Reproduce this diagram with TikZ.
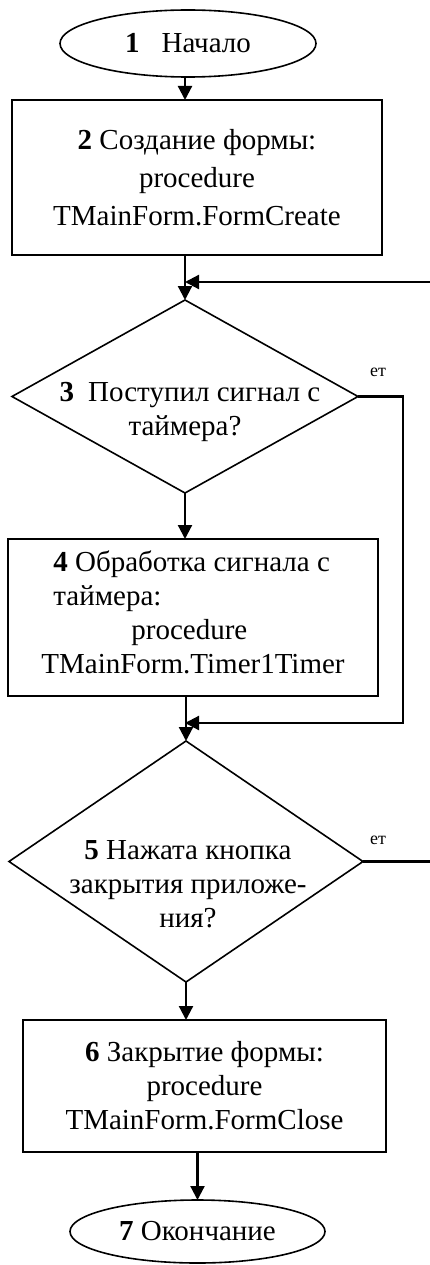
\documentclass[tikz,border=0pt]{standalone}
\usepackage{fontspec}
\setmainfont{Liberation Serif}
\usetikzlibrary{shapes.geometric,arrows.meta}
\newcommand\flowfont{\fontsize{29}{34}\selectfont}
\newcommand\notefont{\fontsize{18}{20}\selectfont}
\begin{document}
\begin{tikzpicture}[x=1pt,y=-1pt,
  outline/.style={draw=black,line width=1.6pt,inner sep=0pt,outer sep=0pt},
  procbox/.style={outline,rectangle,align=center,font=\flowfont},
  terminal/.style={outline,ellipse,font=\flowfont},
  decision/.style={outline,diamond},
  textblock/.style={font=\flowfont,align=center,inner sep=0pt},
  flow/.style={line width=2.2pt,-{Triangle[length=14pt,width=14pt]}},
  link/.style={line width=2.2pt},
  notelabel/.style={font=\notefont,inner sep=0pt}]
\useasboundingbox (0,0) rectangle (430,1265);

% shapes of the flowchart
\node[terminal,minimum width=256pt,minimum height=67pt] (e1) at (188,43.5)
  {\textbf{1}\hspace{22pt}Начало};
\node[procbox,minimum width=370pt,minimum height=155pt] (b2) at (197,177.5)
  {\textbf{2} Создание формы:\\[4pt]procedure\\[4pt]TMainForm.FormCreate};
\node[decision,minimum width=346pt,minimum height=193pt] (d3) at (185,396.5) {};
\node[textblock] (t3) at (190,412)
  {\textbf{3}\hspace{14pt}Поступил сигнал с\\таймера?\hspace*{10pt}};
\node[outline,rectangle,minimum width=370pt,minimum height=157pt] (b4) at (193,617.5) {};
\node[textblock,align=left] (t4) at (193,612)
  {\hspace*{12pt}\textbf{4} Обработка сигнала с\\\hspace*{12pt}таймера:\\\hspace*{90pt}procedure\\TMainForm.Timer1Timer};
\node[decision,minimum width=354pt,minimum height=241pt] (d5) at (186,861.5) {};
\node[textblock] (t5) at (188,884)
  {\textbf{5} Нажата кнопка\\закрытия приложе-\\ния?};
\node[procbox,minimum width=363pt,minimum height=132pt] (b6) at (204.5,1086)
  {\textbf{6} Закрытие формы:\\procedure\\TMainForm.FormClose};
\node[terminal,minimum width=255pt,minimum height=63pt] (e7) at (197.5,1231.5)
  {\textbf{7} Окончание};

% small branch labels
\node[notelabel] (n3) at (378,372) {ет};
\node[notelabel] (n5) at (378,840) {ет};

% junction points and free ends
\coordinate (j1) at (185,282);
\coordinate (j2) at (185,723);
\coordinate (in1) at (432,282);
\coordinate (r3) at (403,396.5);
\coordinate (out5) at (432,861.5);

% connectors
\draw[flow] (d3.north |- e1.south) -- (d3.north |- b2.north);
\draw[flow] (d3.north |- b2.south) -- (d3.north);
\draw[flow] (in1) -- (j1);
\draw[flow] (d3.south) -- (d3.south |- b4.north);
\draw[flow] (d3.east) -- (r3) |- (j2);
\draw[flow] (d5.north |- b4.south) -- (d5.north);
\draw[link] (d5.east) -- (out5);
\draw[flow] (d5.south) -- (d5.south |- b6.north);
\draw[flow] (e7.north |- b6.south) -- (e7.north);
\end{tikzpicture}
\end{document}
